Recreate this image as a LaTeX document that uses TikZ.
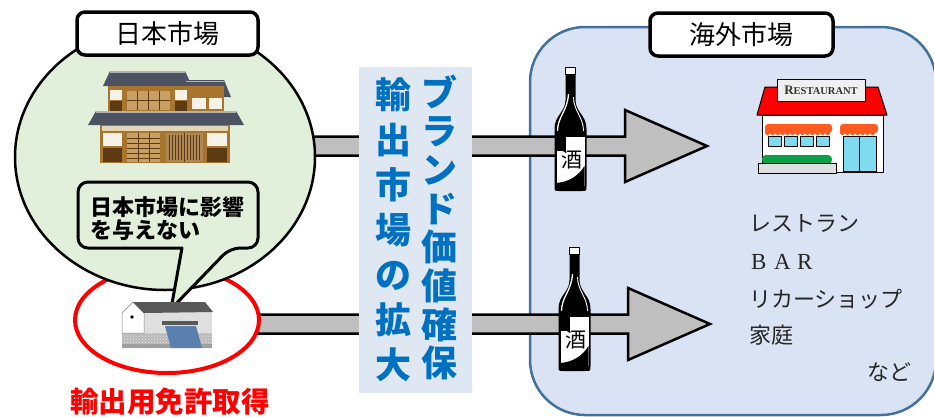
\documentclass[tikz,border=0pt]{standalone}
\usepackage{fontspec}
\usetikzlibrary{calc,patterns}
\newfontfamily\jp{Noto Sans CJK JP}
\newfontfamily\serifwide{Liberation Serif}

\definecolor{jpgreen}{HTML}{E2EFDA}
\definecolor{panelblue}{HTML}{DAE3F3}
\definecolor{panelborder}{HTML}{41719C}
\definecolor{vboxfill}{HTML}{DFE7F3}
\definecolor{textblue}{HTML}{0070C0}
\definecolor{arrowgray}{HTML}{BFBFBF}
\definecolor{roofgray}{HTML}{4D5363}
\definecolor{wood}{HTML}{A8752F}
\definecolor{darkwood}{HTML}{5E3A12}
\definecolor{lattice}{HTML}{C9A064}
\definecolor{plaster}{HTML}{F6F2E8}
\definecolor{band}{HTML}{E3D6B6}
\definecolor{awning}{HTML}{FF5A1F}
\definecolor{glass}{HTML}{7FDCF0}
\definecolor{hedge}{HTML}{0AA04A}
\definecolor{doorblue}{HTML}{5B80AD}

\tikzset{
  marketlabel/.style={draw=black, line width=3.5pt, fill=white, rounded corners=8pt,
    minimum height=43pt, inner sep=0pt, font=\jp\fontsize{26}{26}\selectfont},
  arrowbody/.style={fill=arrowgray, draw=black, line width=2.5pt, line join=miter},
  listtext/.style={anchor=west, inner sep=0pt, text=black!85, font=\jp\fontsize{22}{22}\selectfont},
  vcol/.style={align=center, inner sep=0pt, text=textblue, font=\jp\bfseries\fontsize{36}{#1}\selectfont},
  bottle/.pic={
    % glass body
    \fill[black] (-5,7) -- (5,7) -- (5,33) .. controls (5,45) and (16,48) .. (16,62)
      -- (16,119) .. controls (16,124) .. (11,124) -- (-11,124) .. controls (-16,124) .. (-16,119)
      -- (-16,62) .. controls (-16,48) and (-5,45) .. (-5,33) -- cycle;
    % cap
    \draw[black, line width=0.8pt, fill=white] (-5,0) rectangle (5,7);
    % highlights on the shoulder
    \draw[white, line width=1.3pt] (-2,27) .. controls (-3,44) and (-13,50) .. (-13,64);
    \draw[white, line width=0.9pt] (3,30) .. controls (3,44) and (13,50) .. (13,64);
    % paper label
    \fill[white] (-14,70) rectangle (14,119);
    \fill[black] (-14,70) rectangle (-5,84);
    \fill[black] (14,99) .. controls (8,109) and (-2,115) .. (-14,116) -- (-14,119) -- (14,119) -- cycle;
    \node[inner sep=0pt, font=\jp\fontsize{21}{21}\selectfont] (-sake) at (1,93) {酒};
  }
}

\newcommand\blockarrow[2]{%
  \draw[arrowbody] ($(#1)+(0,-9.5)$) -- ($(#2)+(-82,-9.5)$) -- ($(#2)+(-82,-36)$) -- (#2)
    -- ($(#2)+(-82,36)$) -- ($(#2)+(-82,9.5)$) -- ($(#1)+(0,9.5)$) -- cycle;}

\begin{document}
\begin{tikzpicture}[x=1pt, y=-1pt, line join=round]
\useasboundingbox (0,0) rectangle (934,416);
\fill[white] (0,0) rectangle (934,416);

% overseas market panel
\draw[fill=panelblue, draw=panelborder, line width=2.5pt, rounded corners=55pt]
  (530,27) rectangle (936,415);

% flow arrows
\coordinate (a1s) at (250,146);
\coordinate (a1t) at (707,146);
\coordinate (a2s) at (250,324);
\coordinate (a2t) at (710,324);
\blockarrow{a1s}{a1t}
\blockarrow{a2s}{a2t}

% export licence ring and home market circle
\draw[red, line width=4pt, fill=white] (167,320) ellipse [x radius=92, y radius=53];
\draw[black, line width=2.5pt, fill=jpgreen] (165,157) ellipse [x radius=150, y radius=133];

% traditional house
\begin{scope}[line width=0.6pt]
  \fill[roofgray] (110,71) -- (185,71) -- (192,86) -- (103,86) -- cycle;
  \draw[gray!60, line width=1.2pt] (110,72) -- (185,72);
  \fill[roofgray] (185,80) -- (224,80) -- (231,97) -- (186,97) -- cycle;
  \draw[gray!60, line width=1pt] (186,81) -- (224,81);
  \fill[wood] (108,86) rectangle (224,112);
  \fill[plaster] (110,90) rectangle (122,100);
  \fill[darkwood] (110,101) rectangle (122,111);
  \fill[plaster] (175,90) rectangle (187,100);
  \fill[darkwood] (175,101) rectangle (187,111);
  \fill[plaster] (192,98) rectangle (206,109);
  \fill[plaster] (209,98) rectangle (222,109);
  \fill[lattice] (127,91) rectangle (170,110);
  \foreach \gx in {137.75,148.5,159.25} \draw[darkwood] (\gx,91) -- (\gx,110);
  \draw[darkwood] (127,100.5) -- (170,100.5);
  \fill[roofgray] (96,111) -- (236,111) -- (244,125) -- (88,125) -- cycle;
  \draw[gray!60, line width=1.2pt] (96,112) -- (236,112);
  \fill[wood] (100,125) rectangle (230,163);
  \fill[band] (102,126) rectangle (228,131);
  \fill[plaster] (103,133) rectangle (122,146);
  \fill[darkwood] (103,148) rectangle (122,162);
  \fill[plaster] (207,133) rectangle (227,146);
  \fill[darkwood] (207,148) rectangle (227,162);
  \fill[lattice] (127,133) rectangle (160,162);
  \foreach \gy in {138,143,148,153,158} \draw[darkwood] (127,\gy) -- (160,\gy);
  \foreach \gx in {138,149} \draw[darkwood] (\gx,133) -- (\gx,162);
  \fill[lattice!85!black] (166,133) rectangle (203,162);
  \foreach \gx in {169,172,175,178,181.5,187,190,193,196,199} \draw[darkwood] (\gx,135) -- (\gx,160);
  \draw[darkwood, line width=1pt] (184.5,133) -- (184.5,162);
\end{scope}

% market labels
\node[marketlabel, minimum width=181pt] (jpmkt) at (167.5,33.5) {日本市場};
\node[marketlabel, minimum width=183pt] (osmkt) at (741.5,34.5) {海外市場};

% speech bubble
\draw[black, line width=3pt, fill=jpgreen, rounded corners=10pt]
  (78,182) -- (258,182) -- (258,248) -- (230,248) [sharp corners] -- (171,309)
  -- (182,248) [rounded corners=10pt] -- (78,248) -- cycle;
\node[align=left, inner sep=0pt, font=\jp\bfseries\fontsize{22}{23}\selectfont]
  (bubbletext) at (167,219) {日本市場に影響\\を与えない};

% brewery storehouse
\begin{scope}[line width=0.5pt]
  \fill[gray!55] (122,333) rectangle (212,348);
  \fill[pattern=crosshatch dots, pattern color=gray!20] (122,333) rectangle (212,348);
  \fill[gray!75] (122,344) rectangle (212,348);
  \fill[gray!25] (144,312) rectangle (212,333);
  \draw[gray, fill=white] (122,313) -- (133,302) -- (144,313) -- (144,333) -- (122,333) -- cycle;
  \fill[black!65] (133,302) -- (205,302) -- (213,312) -- (144,313) -- cycle;
  \fill[black] (132,317) circle [radius=1.8];
  \fill[black!65] (162,321) rectangle (198,325);
  \fill[doorblue] (165,326) -- (196,326) -- (202,348) -- (171,348) -- cycle;
\end{scope}

% licence caption
\node[inner sep=0pt, text=red, font=\jp\bfseries\fontsize{28.5}{28.5}\selectfont] (license) at (170,402) {輸出用免許取得};

% vertical message box
\node[fill=vboxfill, minimum width=113pt, minimum height=326pt, inner sep=0pt] (vbox) at (415.5,230) {};
\node[vcol=45pt] (expand) at (393,230) {輸\\出\\市\\場\\の\\拡\\大};
\node[vcol=38.7pt] (brand) at (439,227.5) {ブ\\ラ\\ン\\ド\\価\\値\\確\\保};

% sake bottles
\pic (b1) at (570.5,67) {bottle};
\pic (b2) at (574.5,247) {bottle};

% restaurant
\begin{scope}[line width=1pt]
  \draw[fill=red] (765,87) -- (878,87) -- (887,115) -- (757,115) -- cycle;
  \draw[fill=white] (762,115) rectangle (883,172);
  \fill[awning, rounded corners=3pt] (765,124) rectangle (832,133);
  \foreach \sx in {767.5,772.5,...,830} \fill[awning] (\sx,132.5) circle [radius=2.6];
  \fill[awning, rounded corners=3pt] (840,124) rectangle (878,133);
  \foreach \sx in {842.5,847.5,...,876} \fill[awning] (\sx,132.5) circle [radius=2.6];
  \foreach \wx in {768,784,800,816} \draw[fill=glass, line width=0.5pt] (\wx,136) rectangle ++(13,10);
  \draw[fill=glass, line width=0.6pt] (843,136) rectangle (876,171);
  \draw[line width=0.6pt] (859.5,136) -- (859.5,171);
  \fill[hedge, rounded corners=4pt] (762,155) rectangle (832,164);
  \draw[fill=gray!25] (758,163) rectangle (836,173);
  \draw[fill=gray!12, line width=0.8pt] (777,79) rectangle (865,101);
\end{scope}
\node[inner sep=0pt, text=black!80, font=\serifwide\bfseries] (sign) at (821,90.5)
  {{\fontsize{13}{13}\selectfont R}{\fontsize{10.5}{10.5}\selectfont ESTAURANT}};

% venue list
\node[listtext] (l1) at (749,223) {レストラン};
\node[listtext, font=\serifwide\fontsize{23}{23}\selectfont] (l2) at (751,262)
  {\makebox[23pt][l]{B}\makebox[23pt][l]{A}\makebox[23pt][l]{R}};
\node[listtext] (l3) at (749,299) {リカーショップ};
\node[listtext] (l4) at (749,335) {家庭};
\node[listtext] (l5) at (867,372) {など};

\end{tikzpicture}
\end{document}
